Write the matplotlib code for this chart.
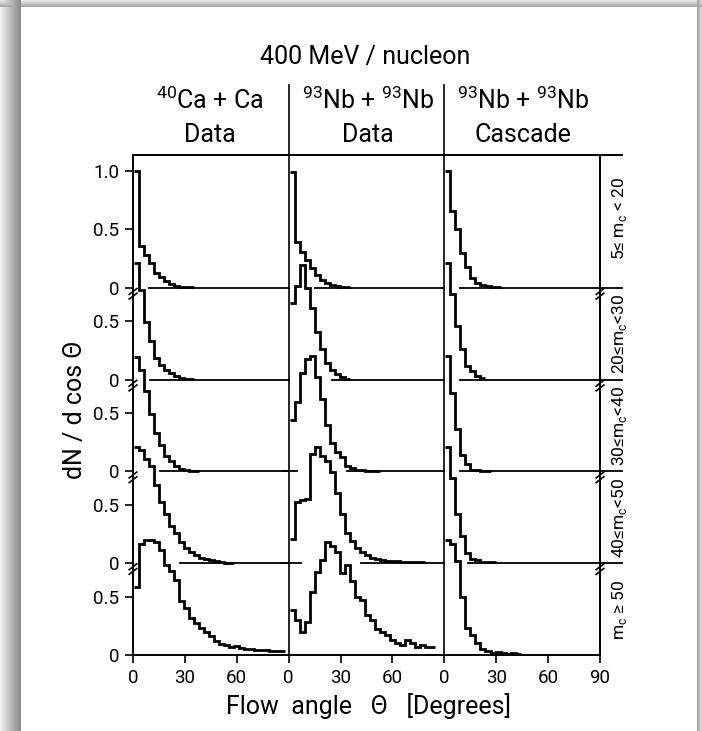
import numpy as np
import matplotlib
matplotlib.use("Agg")
import matplotlib.pyplot as plt

plt.rcParams["font.family"] = ["Roboto", "DejaVu Sans"]
plt.rcParams["font.weight"] = "normal"
plt.rcParams["mathtext.fontset"] = "custom"
plt.rcParams["mathtext.rm"] = "Roboto"

# ---------------- data ----------------
panel_headers = [("$^\\mathregular{40}$Ca + Ca", "Data"),
                 ("$^\\mathregular{93}$Nb + $^\\mathregular{93}$Nb", "Data"),
                 ("$^\\mathregular{93}$Nb + $^\\mathregular{93}$Nb", "Cascade")]
row_labels = ["5\u2264 m$_\\mathregular{c}$ < 20", "20\u2264m$_\\mathregular{c}$<30",
              "30\u2264m$_\\mathregular{c}$<40", "40\u2264m$_\\mathregular{c}$<50",
              "m$_\\mathregular{c}$ \u2265 50"]
x_tick_labels = ["0", "30", "60", "0", "30", "60", "0", "30", "60", "90"]

# Ca + Ca data, multiplicity bins
ca_5_20 = [1.0, 0.36, 0.28, 0.21, 0.13, 0.09, 0.06, 0.035, 0.02, 0.012, 0.007, 0.005]
ca_20_30 = [1.0, 0.77, 0.49, 0.33, 0.19, 0.13, 0.085, 0.057, 0.034, 0.017, 0.008, 0.005]
ca_30_40 = [0.98, 0.87, 0.69, 0.49, 0.33, 0.23, 0.13, 0.088, 0.051, 0.023, 0.01, 0.006, 0.004]
ca_40_50 = [0.99, 0.97, 0.89, 0.83, 0.67, 0.52, 0.42, 0.32, 0.26, 0.18, 0.13, 0.097,
            0.068, 0.049, 0.034, 0.026, 0.017, 0.011, 0.006, 0.004]
ca_50 = [0.58, 0.95, 0.98, 0.98, 0.97, 0.90, 0.77, 0.72, 0.64, 0.46, 0.40, 0.32, 0.27,
         0.23, 0.20, 0.16, 0.12, 0.09, 0.082, 0.065, 0.077, 0.06, 0.05, 0.05, 0.046,
         0.042, 0.042, 0.038, 0.035, 0.03]

# Nb + Nb data
nb_5_20 = [0.99, 0.39, 0.31, 0.24, 0.17, 0.11, 0.068, 0.04, 0.023, 0.013, 0.008, 0.005]
nb_20_30 = [0.66, 0.80, 0.98, 0.78, 0.61, 0.41, 0.26, 0.14, 0.085, 0.05, 0.023, 0.01]
nb_30_40 = [0.44, 0.59, 0.84, 0.96, 0.99, 0.81, 0.62, 0.40, 0.245, 0.17, 0.12, 0.051,
            0.03, 0.017, 0.01, 0.006, 0.005, 0.005]
nb_40_50 = [0.21, 0.52, 0.54, 0.55, 0.93, 0.99, 0.92, 0.87, 0.78, 0.60, 0.42, 0.26,
            0.19, 0.13, 0.097, 0.068, 0.049, 0.034, 0.026, 0.02, 0.017, 0.015, 0.013,
            0.013, 0.012, 0.013, 0.012]
nb_50 = [0.385, 0.30, 0.20, 0.285, 0.54, 0.71, 0.81, 0.97, 0.93, 0.88, 0.70, 0.77, 0.63,
         0.50, 0.47, 0.34, 0.30, 0.22, 0.20, 0.17, 0.13, 0.10, 0.085, 0.128, 0.10, 0.07,
         0.085, 0.07, 0.065]

# Nb + Nb cascade
cas_5_20 = [1.0, 0.66, 0.50, 0.30, 0.18, 0.083, 0.04, 0.023, 0.013, 0.008, 0.005]
cas_20_30 = [1.0, 0.73, 0.46, 0.26, 0.12, 0.071, 0.034, 0.014]
cas_30_40 = [0.99, 0.67, 0.36, 0.145, 0.06, 0.017, 0.01, 0.008, 0.006]
cas_40_50 = [0.99, 0.73, 0.42, 0.23, 0.09, 0.04, 0.025, 0.011, 0.01, 0.008]
cas_50 = [0.98, 0.95, 0.80, 0.50, 0.23, 0.17, 0.10, 0.05, 0.03, 0.02, 0.022, 0.015,
          0.01, 0.013, 0.011]

panels = [[ca_5_20, ca_20_30, ca_30_40, ca_40_50, ca_50],
          [nb_5_20, nb_20_30, nb_30_40, nb_40_50, nb_50],
          [cas_5_20, cas_20_30, cas_30_40, cas_40_50, cas_50]]

# ---------------- layout constants ----------------
W, H = 702, 731
bin_width = 2.9          # degrees
bin_start = 0.6          # degrees
row_step = 0.7842        # vertical offset between rows
n_rows = 5
zero_start = [[9.2, 15.5, 9.2], [9.7, 25.0, 9.2], [15.5, 34.0, 9.2], [27.0, 42.0, 13.8]]
stub_end = [0.0, 0.0, 4.6, 7.0]

fig = plt.figure(figsize=(W / 100, H / 100), dpi=100)
fig.patch.set_facecolor("white")

# page shadow background
yy, xx = np.mgrid[0:H, 0:W] + 0.5
left = np.where(xx < 21, 0.95 - 0.42 * (xx / 21), 1.0)
top = np.where(yy < 7, 0.93 - 0.3 * (yy / 7), 1.0)
right = np.where(xx > 697, 0.62 + 0.25 * ((xx - 697) / 5), 1.0)
shade = np.minimum(np.minimum(left, top), right)
bg = fig.add_axes([0, 0, 1, 1], zorder=-10)
bg.imshow(shade, cmap="gray", vmin=0, vmax=1, extent=(0, W, H, 0), aspect="auto",
          interpolation="bilinear")
bg.axis("off")

def fx(px):
    return px / W

def fy(py):
    return 1 - py / H

ax_l, ax_r, ax_t, ax_b = 133, 600, 155, 655
ax = fig.add_axes([fx(ax_l), fy(ax_b), (ax_r - ax_l) / W, (ax_b - ax_t) / H])
ax.set_facecolor("none")
ymax = (ax_b - ax_t) / 117.0
ax.set_xlim(0, 270)
ax.set_ylim(0, ymax)

lw_axis = 1.4
for s in ax.spines.values():
    s.set_linewidth(lw_axis)

bases = [(n_rows - 1 - k) * row_step for k in range(n_rows)]

# histograms
for j, col in enumerate(panels):
    for k, vals in enumerate(col):
        v = np.asarray(vals)
        edges = j * 90 + bin_start + bin_width * np.arange(len(v) + 1)
        ax.stairs(bases[k] + v, edges, baseline=None, color="black", lw=2.0,
                  zorder=3)

# zero lines
for k in range(n_rows - 1):
    for j in range(3):
        x0 = j * 90 + zero_start[k][j]
        x1 = (j + 1) * 90 if j < 2 else 283
        ax.plot([x0, x1], [bases[k], bases[k]], color="black", lw=1.3, clip_on=False)
    if stub_end[k] > 0:
        ax.plot([86, 90 + stub_end[k]], [bases[k], bases[k]], color="black", lw=1.3)
ax.plot([270, 283], [ymax, ymax], color="black", lw=lw_axis, clip_on=False)

# panel separators reaching into header
for xs in (90, 180):
    ax.plot([xs, xs], [0, (ax_b - 85) / 117.0], color="black", lw=1.2, clip_on=False)

# break marks
for k in range(n_rows - 1):
    yb = bases[k] - 0.05
    for xb in (0, 270):
        for dy in (-0.02, 0.02):
            ax.plot([xb - 2.2, xb + 2.2], [yb + dy - 0.025, yb + dy + 0.025],
                    color="black", lw=1.2, clip_on=False)

# ticks
ax.set_xticks(np.arange(0, 271, 30))
ax.set_xticklabels(x_tick_labels)
yt, yl = [], []
for k in range(n_rows):
    yt += [bases[k], bases[k] + 0.5]
    yl += ["0", "0.5"]
yt.append(bases[0] + 1.0)
yl.append("1.0")
ax.set_yticks(yt)
ax.set_yticklabels(yl)
ax.tick_params(direction="out", length=6, width=1.2, labelsize=13.5, pad=4)

# right side row labels
row_label_py = [218, 334, 426, 518, 610]
for k in range(n_rows):
    ax.text(281, (ax_b - row_label_py[k]) / 117.0, row_labels[k], rotation=90,
            ha="center", va="center", fontsize=12.5, clip_on=False)

# headers
fig.text(fx(365), fy(57), "400 MeV / nucleon", ha="center", va="center", fontsize=18)
header_x = [210, 368, 523]
for j, (h1, h2) in enumerate(panel_headers):
    fig.text(fx(header_x[j]), fy(100), h1, ha="center", va="center", fontsize=18)
    fig.text(fx(header_x[j]), fy(135), h2, ha="center", va="center", fontsize=18)

fig.text(fx(75), fy(410), "dN / d cos \u0398", rotation=90, ha="center", va="center",
         fontsize=18)
fig.text(fx(368), fy(706), "Flow  angle   \u0398   [Degrees]", ha="center", va="center",
         fontsize=18)

fig.savefig("out.png", dpi=100, facecolor=fig.get_facecolor())
